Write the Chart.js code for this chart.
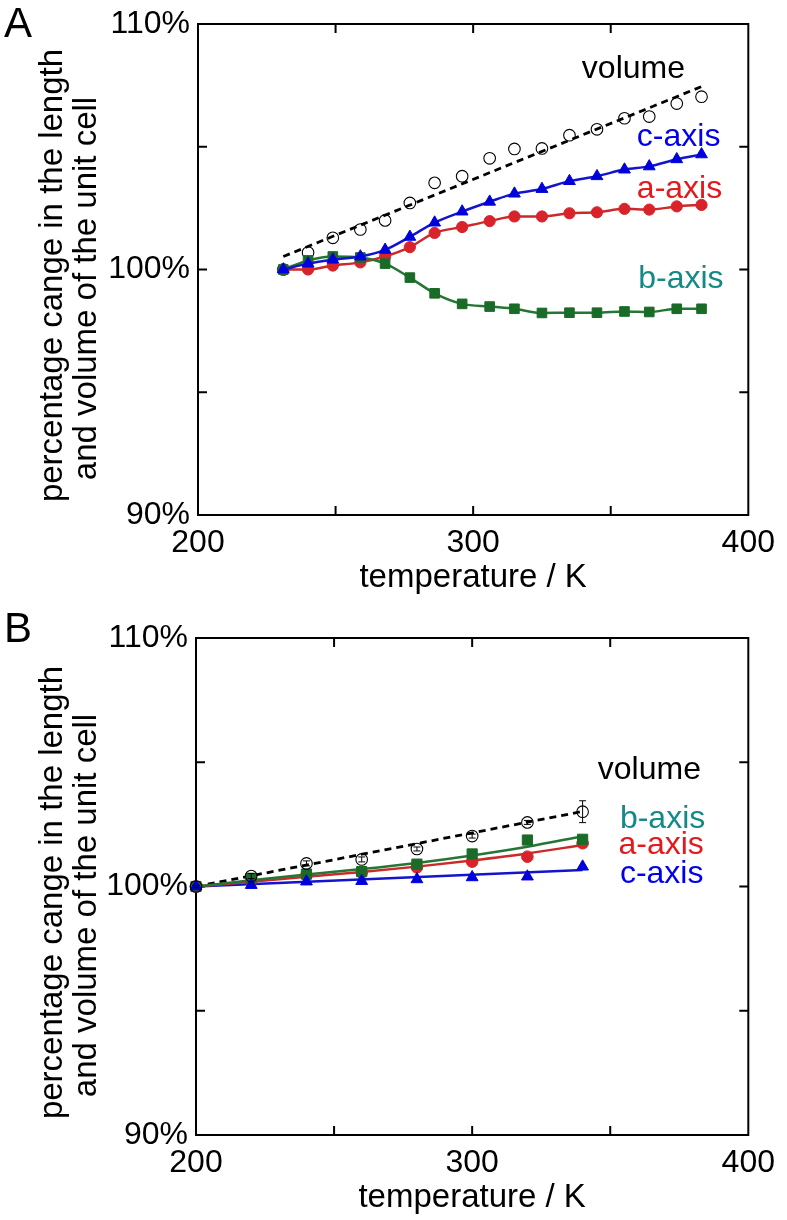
<!DOCTYPE html>
<html><head><meta charset="utf-8">
<script src="https://cdn.jsdelivr.net/npm/chart.js@4.4.1/dist/chart.umd.min.js"></script>
<style>
html,body{margin:0;padding:0;background:#fff;}
#wrap{position:relative;width:787px;height:1220px;overflow:hidden;}
.panel{position:absolute;left:0;width:787px;height:610px;}
</style></head><body>
<div id="wrap">
<div class="panel" style="top:0"><canvas id="cA" width="787" height="610"></canvas></div>
<div class="panel" style="top:610px"><canvas id="cB" width="787" height="610"></canvas></div>
</div>
<script>
// ---------- data : panel A ----------
const tempA  = [231, 240, 249, 259, 268, 277, 286, 296, 306, 315, 325, 335, 345, 355, 364, 374, 383];
const aAxisA = [100.0, 100.0, 100.16, 100.29, 100.53, 100.91, 101.49, 101.73, 101.97, 102.16, 102.16, 102.29, 102.33, 102.47, 102.44, 102.57, 102.63];
const bAxisA = [100.0, 100.37, 100.53, 100.49, 100.24, 99.67, 99.03, 98.6, 98.49, 98.4, 98.23, 98.24, 98.24, 98.29, 98.27, 98.4, 98.4];
const cAxisA = [100.0, 100.24, 100.40, 100.53, 100.8, 101.33, 101.91, 102.36, 102.76, 103.09, 103.28, 103.6, 103.8, 104.07, 104.2, 104.49, 104.69];
const volA   = [100.0, 100.69, 101.29, 101.63, 102.0, 102.71, 103.53, 103.8, 104.53, 104.91, 104.93, 105.47, 105.71, 106.16, 106.23, 106.76, 107.04];
const volFitTempA = [231, 383];
const volFitA     = [100.53, 107.45];

// ---------- data : panel B ----------
const tempB   = [200, 220, 240, 260, 280, 300, 320, 340];
const aAxisB  = [100, 100.23, 100.46, 100.56, 100.77, 101.0, 101.2, 101.74];
const bAxisB  = [100, 100.33, 100.5, 100.6, 100.9, 101.31, 101.87, 101.9];
const cAxisB  = [100, 100.06, 100.2, 100.22, 100.29, 100.37, 100.4, 100.8];
const volB    = [100, 100.42, 100.93, 101.09, 101.51, 102.03, 102.58, 103.01];
const volErrB = [0.05, 0.1, 0.1, 0.1, 0.08, 0.08, 0.08, 0.44];
const aFitB   = [100, 100.19, 100.39, 100.58, 100.8, 101.05, 101.33, 101.67];
const bFitB   = [100, 100.25, 100.48, 100.7, 100.95, 101.25, 101.6, 102.02];
const cFitTempB = [200, 340];
const cFitB     = [100, 100.66];
const volFitTempB = [200, 340];
const volFitB     = [100, 103.02];

// ---------- ticks ----------
const xTickVals = [200, 250, 300, 350, 400];
const xTickText = ['200', '', '300', '', '400'];
const yTickVals = [90, 95, 100, 105, 110];
const yTickText = ['90%', '', '100%', '', '110%'];

const xTitle = 'temperature / K';
const yTitle = ['percentage cange in the length', 'and volume of the unit cell'];

// ---------- styles ----------
const FONT = "'Liberation Sans', Arial, Helvetica, sans-serif";
const RED = '#d9232a', RED_LINE = '#cc2a2a';
const BLUE = '#0000dd', BLUE_LINE = '#1414cc';
const GREEN = '#1b6b28', GREEN_LINE = '#257535';
const LBL = {volume: '#000000', a: '#e3191c', b: '#138a86', c: '#0000ee'};

const labelsA = [
  {text: 'volume', x: 339.5, y: 108.15, color: LBL.volume},
  {text: 'c-axis', x: 359.5, y: 105.4,  color: LBL.c},
  {text: 'a-axis', x: 359.5, y: 103.29, color: LBL.a},
  {text: 'b-axis', x: 360.0, y: 99.6,   color: LBL.b}
];
const labelsB = [
  {text: 'volume', x: 345.5, y: 104.69, color: LBL.volume},
  {text: 'b-axis', x: 353.5, y: 102.72, color: LBL.b},
  {text: 'a-axis', x: 353.0, y: 101.67, color: LBL.a},
  {text: 'c-axis', x: 353.5, y: 100.5,  color: LBL.c}
];

function pts(xs, ys) { return xs.map((x, i) => ({x: x, y: ys[i]})); }

const framePlugin = {
  id: 'frame',
  beforeDatasetsDraw(chart) {
    const {ctx, chartArea: a, scales: {x, y}} = chart;
    ctx.save();
    ctx.strokeStyle = '#000';
    ctx.lineWidth = 2;
    ctx.strokeRect(a.left, a.top, a.right - a.left, a.bottom - a.top);
    const L = 9;
    ctx.beginPath();
    x.ticks.forEach(t => {
      if (t.value <= x.min || t.value >= x.max) return;
      const p = x.getPixelForValue(t.value);
      ctx.moveTo(p, a.bottom); ctx.lineTo(p, a.bottom - L);
      ctx.moveTo(p, a.top); ctx.lineTo(p, a.top + L);
    });
    y.ticks.forEach(t => {
      if (t.value <= y.min || t.value >= y.max) return;
      const p = y.getPixelForValue(t.value);
      ctx.moveTo(a.left, p); ctx.lineTo(a.left + L, p);
      ctx.moveTo(a.right, p); ctx.lineTo(a.right - L, p);
    });
    ctx.stroke();
    ctx.restore();
  }
};

// y-axis title (two rotated lines) + series labels + panel letter
function textPlugin(labels, letter, letterBaseline) {
  return {
    id: 'texts' + letter,
    afterDatasetsDraw(chart) {
      const {ctx, chartArea: a, scales: {x, y}} = chart;
      ctx.save();
      ctx.font = '32px ' + FONT;
      ctx.textBaseline = 'middle';
      ctx.textAlign = 'left';
      labels.forEach(l => {
        ctx.fillStyle = l.color;
        ctx.fillText(l.text, x.getPixelForValue(l.x), y.getPixelForValue(l.y));
      });
      // y title
      const midY = (a.top + a.bottom) / 2;
      ctx.fillStyle = '#000';
      ctx.font = '33px ' + FONT;
      ctx.textAlign = 'center';
      [[53, midY + 6], [87, midY + 19]].forEach((p, i) => {
        ctx.save();
        ctx.translate(p[0], p[1]);
        ctx.rotate(-Math.PI / 2);
        ctx.fillText(yTitle[i], 0, 0);
        ctx.restore();
      });
      ctx.font = '42px ' + FONT;
      ctx.textAlign = 'left';
      ctx.textBaseline = 'alphabetic';
      ctx.fillText(letter, 4, letterBaseline);
      ctx.restore();
    }
  };
}

function errorBarPlugin(xs, ys, errs) {
  return {
    id: 'errbars',
    afterDatasetsDraw(chart) {
      const {ctx, scales: {x, y}} = chart;
      ctx.save();
      ctx.strokeStyle = '#000';
      ctx.lineWidth = 1;
      ctx.beginPath();
      xs.forEach((xv, i) => {
        const px = x.getPixelForValue(xv);
        const y1 = y.getPixelForValue(ys[i] - errs[i]);
        const y2 = y.getPixelForValue(ys[i] + errs[i]);
        ctx.moveTo(px, y1); ctx.lineTo(px, y2);
        ctx.moveTo(px - 3.5, y1); ctx.lineTo(px + 3.5, y1);
        ctx.moveTo(px - 3.5, y2); ctx.lineTo(px + 3.5, y2);
      });
      ctx.stroke();
      ctx.restore();
    }
  };
}

function makeScales(xAxisHeight, yAxisWidth, xTitlePadBottom) {
  return {
    x: {
      type: 'linear', min: 200, max: 400,
      afterBuildTicks: s => { s.ticks = xTickVals.map(v => ({value: v})); },
      afterFit: s => { s.height = xAxisHeight; },
      ticks: {
        autoSkip: false, maxRotation: 0, minRotation: 0, padding: 12, color: '#000',
        font: {family: FONT, size: 32, lineHeight: 1},
        callback: v => { const i = xTickVals.indexOf(v); return i >= 0 ? xTickText[i] : ''; }
      },
      grid: {display: false, drawTicks: false},
      border: {display: false},
      title: {display: true, text: xTitle, color: '#000',
              font: {family: FONT, size: 33, lineHeight: 1.2},
              padding: {top: 0, bottom: xTitlePadBottom}}
    },
    y: {
      type: 'linear', min: 90, max: 110,
      afterBuildTicks: s => { s.ticks = yTickVals.map(v => ({value: v})); },
      afterFit: s => { s.width = yAxisWidth; },
      ticks: {
        autoSkip: false, padding: 8, color: '#000',
        font: {family: FONT, size: 32, lineHeight: 1},
        callback: v => { const i = yTickVals.indexOf(v); return i >= 0 ? yTickText[i] : ''; }
      },
      grid: {display: false, drawTicks: false},
      border: {display: false},
      title: {display: false}
    }
  };
}

function baseOptions(scales, padding) {
  return {
    responsive: false, animation: false, events: [],
    layout: {padding: padding},
    plugins: {legend: {display: false}, tooltip: {enabled: false}},
    scales: scales
  };
}

// ---------- panel A ----------
new Chart(document.getElementById('cA'), {
  type: 'scatter',
  data: {
    datasets: [
      {label: 'c-axis', data: pts(tempA, cAxisA), showLine: true, borderColor: BLUE_LINE, borderWidth: 2.5,
       pointStyle: 'triangle', pointRadius: 6.8, pointBackgroundColor: BLUE, pointBorderColor: BLUE, pointBorderWidth: 1,
       cubicInterpolationMode: 'monotone', tension: 0.4, clip: false},
      {label: 'b-axis', data: pts(tempA, bAxisA), showLine: true, borderColor: GREEN_LINE, borderWidth: 2.5,
       pointStyle: 'rect', pointRadius: 6.8, pointBackgroundColor: GREEN, pointBorderColor: GREEN, pointBorderWidth: 1,
       cubicInterpolationMode: 'monotone', tension: 0.4, clip: false},
      {label: 'a-axis', data: pts(tempA, aAxisA), showLine: true, borderColor: RED_LINE, borderWidth: 2.5,
       pointStyle: 'circle', pointRadius: 5.6, pointBackgroundColor: RED, pointBorderColor: RED, pointBorderWidth: 1,
       cubicInterpolationMode: 'monotone', tension: 0.4, clip: false},
      {label: 'volume', data: pts(tempA, volA), showLine: false,
       pointStyle: 'circle', pointRadius: 5.8, pointBackgroundColor: 'rgba(0,0,0,0)', pointBorderColor: '#000', pointBorderWidth: 1.1, clip: false},
      {label: 'volume fit', data: pts(volFitTempA, volFitA), showLine: true, borderColor: '#000', borderWidth: 2.8,
       borderDash: [7, 5], pointRadius: 0, clip: false}
    ]
  },
  options: baseOptions(makeScales(95, 198, 12), {top: 17, right: 29, left: 0, bottom: 0}),
  plugins: [framePlugin, textPlugin(labelsA, 'A', 37)]
});

// ---------- panel B ----------
new Chart(document.getElementById('cB'), {
  type: 'scatter',
  data: {
    datasets: [
      {label: 'volume', data: pts(tempB, volB), showLine: false,
       pointStyle: 'circle', pointRadius: 5.8, pointBackgroundColor: 'rgba(0,0,0,0)', pointBorderColor: '#000', pointBorderWidth: 1.1, clip: false},
      {label: 'c-axis', data: pts(tempB, cAxisB), showLine: false,
       pointStyle: 'triangle', pointRadius: 6.8, pointBackgroundColor: BLUE, pointBorderColor: BLUE, pointBorderWidth: 1, clip: false},
      {label: 'b-axis', data: pts(tempB, bAxisB), showLine: false,
       pointStyle: 'rect', pointRadius: 7.2, pointBackgroundColor: GREEN, pointBorderColor: GREEN, pointBorderWidth: 1, clip: false},
      {label: 'a-axis', data: pts(tempB, aAxisB), showLine: false,
       pointStyle: 'circle', pointRadius: 5.8, pointBackgroundColor: RED, pointBorderColor: RED, pointBorderWidth: 1, clip: false},
      {label: 'b fit', data: pts(tempB, bFitB), showLine: true, borderColor: GREEN_LINE, borderWidth: 2.5,
       pointRadius: 0, cubicInterpolationMode: 'monotone', tension: 0.4, clip: false},
      {label: 'a fit', data: pts(tempB, aFitB), showLine: true, borderColor: RED_LINE, borderWidth: 2.5,
       pointRadius: 0, cubicInterpolationMode: 'monotone', tension: 0.4, clip: false},
      {label: 'c fit', data: pts(cFitTempB, cFitB), showLine: true, borderColor: BLUE_LINE, borderWidth: 2.5,
       pointRadius: 0, clip: false},
      {label: 'volume fit', data: pts(volFitTempB, volFitB), showLine: true, borderColor: '#000', borderWidth: 2.8,
       borderDash: [7, 5], pointRadius: 0, clip: false}
    ]
  },
  options: baseOptions(makeScales(85, 196, 2), {top: 28, right: 30, left: 0, bottom: 0}),
  plugins: [framePlugin, errorBarPlugin(tempB, volB, volErrB), textPlugin(labelsB, 'B', 32)]
});
</script>
</body></html>
